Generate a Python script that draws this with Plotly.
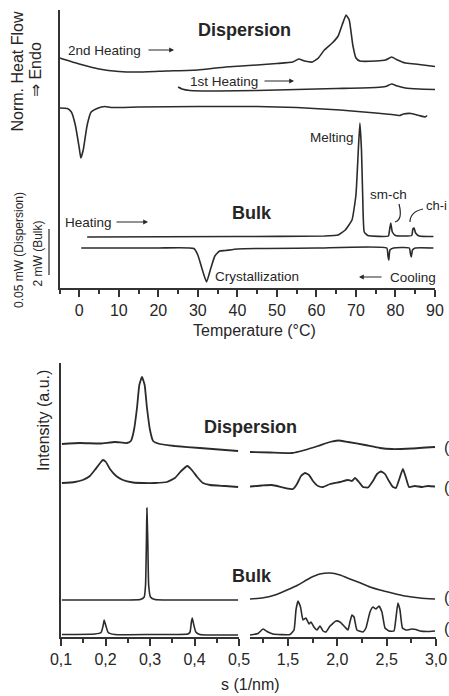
import plotly.graph_objects as go

# ---------------- DSC (top panel) : Temperature in °C, heat flow in a.u. ----------------
disp_heat2_T = [-5, 0, 5, 10, 15, 22, 30, 37, 45, 50, 54, 55.5, 57, 59, 60.5, 62, 64, 65.5, 66.5, 67.5,
                68.3, 69.2, 70, 71, 75, 77.5, 79, 80.5, 82.5, 85, 90]
disp_heat2_Q = [230, 224, 219, 216.5, 216, 217, 218, 221, 223, 224.5, 226, 229, 227, 226, 230, 238, 245, 252, 263, 273,
                268, 243, 230, 227, 227, 228, 231, 228, 225, 224, 221.5]

disp_heat1_T = [25, 26, 28, 35, 45, 55, 65, 75, 77.5, 79, 80.5, 82.5, 86, 90]
disp_heat1_Q = [201, 199, 197.5, 197, 197.5, 198.5, 199.5, 200.5, 201.5, 204, 202, 200, 199, 198.5]

disp_cool_T = [-5, -3, -2, -1, 0, 0.4, 1, 2, 3, 4.5, 6.5, 8, 15, 30, 45, 55, 66, 75, 79, 81, 82, 84, 86, 87.5, 88]
disp_cool_Q = [180, 179.5, 176, 163, 140, 130, 138, 163, 176, 179.5, 181.5, 180.5, 181, 181.5, 181.5, 180.5, 178,
               175, 173.5, 172.5, 174, 174.5, 172.5, 171, 172.5]

bulk_heat_T = [2, 40, 62, 65.5, 67.3, 69, 70, 70.6, 71.0, 71.4, 71.7, 72.1, 73, 78.2, 78.5, 78.8, 79.2, 80,
               84.1, 84.4, 84.7, 85.1, 86, 89.6]
bulk_heat_Q = [51, 51.5, 52, 53, 58, 68, 93, 138, 165, 138, 93, 56, 52.5, 52, 58, 65, 56, 52.5,
               52.5, 59, 60, 55, 52, 51.5]

bulk_cool_T = [0.5, 20, 29, 30, 31, 32.2, 33.3, 34.3, 35.5, 37, 40, 60, 77.8, 78.1, 78.3, 78.6, 79.5,
               83.5, 83.8, 84, 84.3, 85, 89.6]
bulk_cool_Q = [40, 40, 39.5, 33, 20, 6, 20, 32, 37, 37.5, 39, 40, 40, 32, 28, 38, 40,
               40, 34, 31, 38, 40, 40]

temp_ticks = [0, 10, 20, 30, 40, 50, 60, 70, 80, 90]
temp_ticktext = ["0", "10", "20", "30", "40", "50", "60", "70", "80", "90"]

# ---------------- X-ray (bottom panel) : s in 1/nm, intensity in a.u. ----------------
# Dispersion, upper curve
dA_sL = [0.102, 0.143, 0.188, 0.221, 0.248, 0.257, 0.264, 0.271, 0.276, 0.282, 0.288, 0.293, 0.300, 0.307,
         0.322, 0.356, 0.412, 0.469, 0.498]
dA_IL = [193, 194, 193.5, 195, 194, 196, 207, 230, 252, 260, 252, 230, 207, 196,
         193, 191, 189, 187, 186]
dA_sR = [1.115, 1.318, 1.541, 1.672, 1.804, 1.926, 2.007, 2.108, 2.280, 2.432, 2.554, 2.756, 2.99]
dA_IR = [185, 184.5, 184, 187, 191, 195, 196.5, 195, 192, 189, 188, 188.5, 190]

# Dispersion, lower curve
dB_sL = [0.102, 0.131, 0.149, 0.165, 0.176, 0.188, 0.194, 0.201, 0.210, 0.224, 0.239, 0.262, 0.284, 0.311,
         0.338, 0.356, 0.370, 0.384, 0.394, 0.406, 0.419, 0.435, 0.469, 0.498]
dB_IL = [154, 155, 157, 161, 167, 174, 177, 175, 168, 161, 157, 154.5, 154, 154,
         155, 159, 166, 171, 167, 160, 154, 152, 151, 150]
dB_sR = [1.115, 1.237, 1.338, 1.470, 1.551, 1.591, 1.632, 1.672, 1.713, 1.753, 1.804, 1.855, 1.926, 2.027,
         2.108, 2.148, 2.179, 2.219, 2.260, 2.311, 2.361, 2.402, 2.442, 2.483, 2.523, 2.564, 2.594, 2.625,
         2.665, 2.696, 2.726, 2.787, 2.858, 2.919, 2.99]
dB_IR = [150.5, 151.5, 152, 149, 148, 153, 161, 164, 162, 156, 151, 150, 153, 155,
         157, 156, 159, 155, 150, 149.5, 156, 163, 165.5, 163, 156, 150, 149, 157,
         168, 159, 150, 151, 150, 151, 150.5]

# Bulk, upper curve
bC_sL = [0.102, 0.188, 0.278, 0.287, 0.290, 0.292, 0.293, 0.295, 0.297, 0.301, 0.311, 0.412, 0.498]
bC_IL = [37, 37, 37.5, 40, 52, 97, 129, 97, 52, 40, 37.5, 37, 37]
bC_sR = [1.115, 1.237, 1.368, 1.490, 1.601, 1.723, 1.824, 1.926, 2.027, 2.128, 2.209, 2.331, 2.432, 2.554,
         2.686, 2.838, 2.99]
bC_IR = [38, 39, 42, 47, 52, 59, 63, 64, 62, 58, 55, 50, 47, 44, 41, 39, 38]

# Bulk, lower curve
bD_sL = [0.102, 0.176, 0.190, 0.195, 0.197, 0.201, 0.206, 0.221, 0.300, 0.385, 0.390, 0.393, 0.395, 0.398,
         0.403, 0.412, 0.498]
bD_IL = [2.5, 3, 4.5, 12, 17, 11, 4.5, 2.5, 2.5, 3, 5, 15, 19, 13, 5, 2.5, 2]
bD_sR = [1.115, 1.196, 1.247, 1.297, 1.348, 1.520, 1.561, 1.581, 1.601, 1.627, 1.652, 1.682, 1.713, 1.733,
         1.763, 1.794, 1.824, 1.855, 1.885, 1.926, 1.986, 2.027, 2.077, 2.108, 2.128, 2.148, 2.169, 2.199,
         2.260, 2.290, 2.331, 2.361, 2.392, 2.422, 2.452, 2.483, 2.523, 2.574, 2.594, 2.614, 2.635, 2.660,
         2.696, 2.756, 2.797, 2.838, 2.909, 2.99]
bD_IR = [2, 3.5, 8, 5, 3, 2.5, 7, 27, 36, 30, 17, 19, 13, 15,
         10, 7, 11, 6, 5, 11, 16, 15, 10, 7, 15, 22, 20, 7,
         5, 9, 25, 30, 28, 31, 25, 9, 6, 6, 19, 34, 27, 9,
         7, 8, 7.5, 6, 5.5, 6]

sL_ticks = [0.1, 0.2, 0.3, 0.4, 0.5]
sL_ticktext = ["0,1", "0,2", "0,3", "0,4", "0,5"]
sL_minor = [0.15, 0.25, 0.35, 0.45]
sR_ticks = [1.5, 2.0, 2.5, 3.0]
sR_ticktext = ["1,5", "2,0", "2,5", "3,0"]
sR_minor = [1.25, 1.75, 2.25, 2.75]

# ---------------- figure ----------------
W, H = 449, 696
FONT = "Liberation Sans, Arial, sans-serif"
INK = "#262626"
LINE = "#2b2b2b"


def px(x):
    return x / W


def py(y):
    return 1 - y / H


fig = go.Figure()


def add(x, y, xa, ya, width=1.6):
    fig.add_trace(go.Scatter(x=x, y=y, xaxis=xa, yaxis=ya, mode="lines",
                             line=dict(color=LINE, width=width, shape="spline", smoothing=0.4),
                             showlegend=False, hoverinfo="skip"))


add(disp_heat2_T, disp_heat2_Q, "x", "y")
add(disp_heat1_T, disp_heat1_Q, "x", "y")
add(disp_cool_T, disp_cool_Q, "x", "y")
add(bulk_heat_T, bulk_heat_Q, "x", "y")
add(bulk_cool_T, bulk_cool_Q, "x", "y")

for (sL, IL, sR, IR, w) in [(dA_sL, dA_IL, dA_sR, dA_IR, 1.8), (dB_sL, dB_IL, dB_sR, dB_IR, 1.8),
                            (bC_sL, bC_IL, bC_sR, bC_IR, 1.6), (bD_sL, bD_IL, bD_sR, bD_IR, 1.6)]:
    add(sL, IL, "x2", "y2", w)
    add(sR, IR, "x3", "y2", w)

tickfont = dict(family=FONT, size=16, color=INK)
axline = dict(showline=True, linecolor="#333333", linewidth=2, showgrid=False, zeroline=False,
              ticks="outside", ticklen=7, tickwidth=1.5, tickcolor="#333333", tickfont=tickfont,
              automargin=False)
yline = dict(showticklabels=False, showline=True, linecolor="#333333", linewidth=2, showgrid=False,
             zeroline=False, ticks="", automargin=False)

fig.update_layout(
    width=W, height=H, margin=dict(l=0, r=0, t=0, b=0, autoexpand=False),
    paper_bgcolor="white", plot_bgcolor="white",
    font=dict(family=FONT, color=INK),
    xaxis=dict(domain=[px(59.5), px(435)], range=[-5, 90], anchor="y",
               tickvals=temp_ticks, ticktext=temp_ticktext,
               minor=dict(dtick=5, tick0=0, ticklen=4, tickwidth=1.5, tickcolor="#333333", ticks="outside"),
               **axline),
    yaxis=dict(domain=[py(288), py(10)], range=[0, 278], anchor="x", **yline),
    xaxis2=dict(domain=[px(61), px(239)], range=[0.1, 0.5], anchor="y2",
                tickvals=sL_ticks, ticktext=sL_ticktext,
                minor=dict(tickvals=sL_minor, ticklen=4, tickwidth=1.5, tickcolor="#333333", ticks="outside"),
                **axline),
    xaxis3=dict(domain=[px(250), px(436)], range=[1.115, 3.0], anchor="y2",
                tickvals=sR_ticks, ticktext=sR_ticktext,
                minor=dict(tickvals=sR_minor, ticklen=4, tickwidth=1.5, tickcolor="#333333", ticks="outside"),
                **axline),
    yaxis2=dict(domain=[py(637), py(363)], range=[0, 274], anchor="x2", **yline),
)

# ---------------- text ----------------
anns = []


def txt(text, x, y, size=13.5, bold=False, angle=0, xanchor="center", color=INK):
    anns.append(dict(text=f"<b>{text}</b>" if bold else text, x=px(x), y=py(y), xref="paper", yref="paper",
                     showarrow=False, xanchor=xanchor, yanchor="middle", textangle=angle,
                     font=dict(family=FONT, size=size, color=color)))


def arrow(x0, y0, x1, y1):
    anns.append(dict(text="", x=px(x1), y=py(y1), ax=x0 - x1, ay=y0 - y1, xref="paper", yref="paper",
                     axref="pixel", ayref="pixel", showarrow=True, arrowhead=2, arrowsize=0.8,
                     arrowwidth=1.2, arrowcolor=INK))


# axis titles
txt("Norm. Heat Flow", 17.5, 72, size=16, angle=-90)
txt("⇒ Endo", 36, 70, size=16, angle=-90)
txt("0.05 mW (Dispersion)", 19, 250, size=12, angle=-90)
txt("2 mW (Bulk)", 37.5, 254, size=12, angle=-90)
txt("Temperature (°C)", 254, 330, size=16)
txt("Intensity (a.u.)", 43, 421, size=16, angle=-90)
txt("s (1/nm)", 251, 684, size=16)

# DSC labels
txt("Dispersion", 245, 30, size=18, bold=True)
txt("2nd Heating", 104, 50)
arrow(147, 50, 174, 50)
txt("1st Heating", 224, 81)
arrow(263, 81, 294, 81)
txt("Melting", 332, 137)
txt("Bulk", 252, 213, size=18, bold=True)
txt("Heating", 88, 222)
arrow(115, 222, 148, 222)
txt("sm-ch", 388, 195)
txt("ch-i", 424, 206, size=13, xanchor="left")
txt("Crystallization", 257, 276)
txt("Cooling", 413, 277)
arrow(383, 277, 359, 277)

# X-ray labels
txt("Dispersion", 251, 427, size=18, bold=True)
txt("Bulk", 252, 576, size=18, bold=True)
for yy in [447, 487, 597, 628]:
    txt("(", 442, yy, size=16, xanchor="left")

fig.update_layout(annotations=anns)

# scale bar and curved pointers
shapes = [
    dict(type="line", xref="paper", yref="paper", x0=px(49), x1=px(49), y0=py(229), y1=py(275),
         line=dict(color="#555555", width=1.5)),
    dict(type="path", xref="paper", yref="paper",
         path=f"M {px(399)},{py(204)} Q {px(403)},{py(220)} {px(395)},{py(222)}",
         line=dict(color=INK, width=1.2)),
    dict(type="path", xref="paper", yref="paper",
         path=f"M {px(423)},{py(209)} Q {px(410)},{py(212)} {px(410)},{py(222)}",
         line=dict(color=INK, width=1.2)),
]
fig.update_layout(shapes=shapes)

fig.write_html("out.html", config={"displayModeBar": False},
               post_script="document.body.style.margin='0px';document.body.style.overflow='hidden';")
